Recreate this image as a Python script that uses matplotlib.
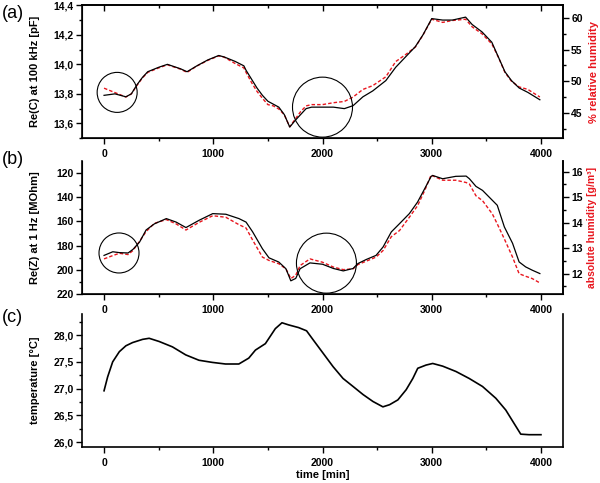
import matplotlib
matplotlib.use('Agg')
import matplotlib.pyplot as plt
from matplotlib.patches import Circle
from matplotlib.ticker import MultipleLocator, FuncFormatter
from matplotlib.transforms import ScaledTranslation

plt.rcParams['font.family'] = ['Liberation Sans', 'DejaVu Sans']

# (a) capacitance and relative humidity
t_a = [0, 100, 200, 250, 300, 350, 400, 500, 580, 700, 760, 850, 950, 1050, 1100,
       1200, 1280, 1300, 1350, 1400, 1450, 1500, 1550, 1600, 1650, 1700, 1750, 1800,
       1850, 1900, 2000, 2100, 2200, 2280, 2370, 2460, 2580, 2670, 2760, 2850, 2920,
       3000, 3100, 3190, 3310, 3370, 3460, 3550, 3610, 3670, 3730, 3800, 3880, 3990]
cap = [13.79, 13.80, 13.78, 13.80, 13.86, 13.91, 13.95, 13.98, 14.00, 13.97, 13.95,
       13.99, 14.03, 14.06, 14.05, 14.02, 13.99, 13.96, 13.90, 13.84, 13.79, 13.75,
       13.73, 13.71, 13.66, 13.575, 13.62, 13.66, 13.70, 13.71, 13.71, 13.71, 13.70,
       13.72, 13.78, 13.82, 13.89, 13.98, 14.05, 14.12, 14.20, 14.31, 14.30, 14.30,
       14.32, 14.27, 14.22, 14.15, 14.05, 13.95, 13.89, 13.84, 13.81, 13.76]
rh = [48.9, 48.2, 47.5, 48.0, 49.3, 50.5, 51.4, 52.1, 52.6, 51.9, 51.4, 52.4, 53.3,
      54.0, 53.8, 52.8, 52.1, 51.4, 49.8, 48.4, 47.3, 46.3, 46.1, 45.6, 44.7, 42.8,
      44.0, 45.2, 46.1, 46.3, 46.3, 46.6, 46.8, 47.5, 48.7, 49.3, 50.7, 53.1, 54.2,
      55.4, 57.3, 59.8, 59.3, 59.6, 59.8, 58.6, 57.5, 55.9, 53.8, 51.4, 50.0, 49.1,
      48.7, 47.5]

# (b) impedance and absolute humidity
t_b = [0, 80, 140, 220, 265, 325, 385, 460, 570, 660, 750, 870, 995, 1115, 1235,
       1300, 1360, 1450, 1510, 1600, 1665, 1710, 1755, 1795, 1885, 2000, 2100, 2190,
       2280, 2325, 2400, 2490, 2555, 2630, 2705, 2795, 2870, 2935, 2995, 3010, 3100,
       3220, 3315, 3345, 3405, 3465, 3555, 3600, 3665, 3740, 3800, 3860, 3920, 3990]
imp = [188, 185, 185.7, 186, 183, 177, 167, 162, 157.6, 160.5, 165, 159, 153.5, 154,
       157.6, 160.5, 168.5, 182.5, 190, 193.5, 199, 209, 207, 199, 194.2, 195.3,
       198.8, 200.8, 198.8, 194.7, 191.4, 188, 181, 168.6, 161.8, 153.5, 144, 133,
       122.7, 122, 124.7, 122.7, 122.5, 124.7, 131, 134.3, 142.5, 146.6, 164.5, 178,
       193.4, 197.5, 200.2, 203]
ah = [12.58, 12.71, 12.80, 12.75, 12.91, 13.27, 13.65, 13.97, 14.12, 13.95, 13.71,
      14.01, 14.27, 14.21, 13.92, 13.79, 13.32, 12.65, 12.52, 12.39, 12.19, 11.81,
      11.94, 12.32, 12.58, 12.45, 12.26, 12.16, 12.19, 12.36, 12.49, 12.65, 12.91,
      13.45, 13.69, 14.21, 14.66, 15.25, 15.87, 15.83, 15.66, 15.66, 15.57, 15.51,
      15.05, 14.86, 14.34, 13.95, 13.36, 12.65, 12.00, 11.90, 11.81, 11.64]

# (c) temperature
t_c = [0, 33, 79, 140, 200, 261, 353, 413, 505, 626, 748, 869, 991, 1112, 1234, 1325,
       1386, 1477, 1568, 1629, 1690, 1781, 1854, 1915, 2006, 2097, 2188, 2280, 2371,
       2462, 2553, 2614, 2690, 2766, 2827, 2872, 2948, 3009, 3100, 3222, 3343, 3465,
       3587, 3678, 3754, 3815, 3891, 4000]
temp = [26.96, 27.22, 27.50, 27.69, 27.80, 27.86, 27.92, 27.94, 27.88, 27.78, 27.63,
        27.53, 27.49, 27.46, 27.46, 27.57, 27.72, 27.84, 28.12, 28.23, 28.19, 28.14,
        28.08, 27.91, 27.66, 27.41, 27.19, 27.04, 26.89, 26.76, 26.66, 26.70, 26.79,
        26.98, 27.19, 27.38, 27.44, 27.47, 27.42, 27.32, 27.19, 27.04, 26.82, 26.60,
        26.35, 26.15, 26.14, 26.14]

# circles marking regions of interest (data centre, radius in px)
circles_a = [(120, 13.81, 20), (2000, 13.71, 30)]
circles_b = [(137, 186.0, 20), (2036, 194.4, 30)]

RED = '#e8161e'
comma = FuncFormatter(lambda v, p: ('%.1f' % v).replace('.', ','))
plain = FuncFormatter(lambda v, p: '%d' % round(v))

fig = plt.figure(figsize=(6.0, 4.83), dpi=100)
ax_a = fig.add_axes([0.137, 0.714, 0.801, 0.275])
ax_b = fig.add_axes([0.137, 0.391, 0.801, 0.275])
ax_c = fig.add_axes([0.137, 0.0745, 0.801, 0.275])


def bold_ticks(ax):
    for lab in ax.get_xticklabels() + ax.get_yticklabels():
        lab.set_fontweight('bold')


def style(ax):
    ax.set_xlim(-200, 4200)
    ax.xaxis.set_major_locator(MultipleLocator(1000))
    ax.xaxis.set_minor_locator(MultipleLocator(500))
    ax.xaxis.set_major_formatter(plain)
    ax.tick_params(axis='both', which='major', direction='out', length=4, width=1,
                   labelsize=7.5, pad=2)
    ax.tick_params(axis='both', which='minor', direction='out', length=2, width=1)
    ax.tick_params(axis='x', which='major', pad=4)
    for s in ax.spines.values():
        s.set_linewidth(1.2)
    ax.spines['top'].set_visible(False)


def right_axis(ax, lo, hi, major, minor, fmt):
    r = ax.twinx()
    r.set_ylim(lo, hi)
    r.yaxis.set_major_locator(MultipleLocator(major))
    r.yaxis.set_minor_locator(MultipleLocator(minor))
    r.yaxis.set_major_formatter(fmt)
    r.tick_params(axis='y', which='major', direction='out', length=4, width=1,
                  labelsize=7.5, pad=2)
    r.tick_params(axis='y', which='minor', direction='out', length=2, width=1)
    r.spines['top'].set_visible(False)
    r.spines['right'].set_linewidth(1.2)
    ax.set_zorder(r.get_zorder() + 1)
    ax.patch.set_visible(False)
    return r


def add_circles(ax, circles):
    for cx, cy, r in circles:
        off = ScaledTranslation(cx, cy, ax.transData)
        c = Circle((0, 0), r / 100.0, transform=fig.dpi_scale_trans + off,
                   fill=False, edgecolor='black', linewidth=0.8, clip_on=False)
        fig.add_artist(c)


# ---- (a)
ax_a.plot(t_a, cap, color='black', linewidth=0.9, zorder=3)
ax_a.set_ylim(13.5, 14.4)
ax_a.yaxis.set_major_locator(MultipleLocator(0.2))
ax_a.yaxis.set_minor_locator(MultipleLocator(0.1))
ax_a.yaxis.set_major_formatter(comma)
style(ax_a)
ax_a.spines['top'].set_visible(True)
top = ax_a.secondary_xaxis('top')
top.xaxis.set_major_locator(MultipleLocator(1000))
top.xaxis.set_minor_locator(MultipleLocator(500))
top.tick_params(which='major', direction='in', length=4, width=1, labeltop=False)
top.tick_params(which='minor', direction='in', length=2, width=1)
top.spines['top'].set_linewidth(1.2)
ax_a.set_ylabel('Re(C) at 100 kHz [pF]', fontsize=8, fontweight='bold')
ax_a.yaxis.set_label_coords(-0.087, 0.5)
ra = right_axis(ax_a, 41, 62, 5, 2.5, plain)
ra.plot(t_a, rh, color=RED, linewidth=1.0, linestyle=(0, (2.5, 1.5)))
ra.set_ylabel('% relative humidity', fontsize=8, fontweight='bold', color=RED)
ra.yaxis.set_label_coords(1.054, 0.5)
add_circles(ax_a, circles_a)

# ---- (b)
ax_b.plot(t_b, imp, color='black', linewidth=0.9, zorder=3)
ax_b.set_ylim(220, 110.3)
ax_b.yaxis.set_major_locator(MultipleLocator(20))
ax_b.yaxis.set_minor_locator(MultipleLocator(10))
ax_b.yaxis.set_major_formatter(plain)
style(ax_b)
ax_b.set_ylabel('Re(Z) at 1 Hz [MOhm]', fontsize=8, fontweight='bold')
ax_b.yaxis.set_label_coords(-0.087, 0.5)
rb = right_axis(ax_b, 11.2, 16.4, 1, 0.5, plain)
rb.plot(t_b, ah, color=RED, linewidth=1.0, linestyle=(0, (2.5, 1.5)))
rb.set_ylabel('absolute humidity [g/m³]', fontsize=7.5, fontweight='bold',
              color=RED)
rb.yaxis.set_label_coords(1.05, 0.5)
add_circles(ax_b, circles_b)

# ---- (c)
ax_c.plot(t_c, temp, color='black', linewidth=1.2)
ax_c.set_ylim(25.91, 28.39)
ax_c.yaxis.set_major_locator(MultipleLocator(0.5))
ax_c.yaxis.set_minor_locator(MultipleLocator(0.25))
ax_c.yaxis.set_major_formatter(comma)
style(ax_c)
ax_c.set_ylabel('temperature [°C]', fontsize=8, fontweight='bold')
ax_c.yaxis.set_label_coords(-0.087, 0.5)
ax_c.set_xlabel('time [min]', fontsize=8, fontweight='bold')
ax_c.xaxis.set_label_coords(0.5, -0.17)

for ax in (ax_a, ax_b, ax_c, ra, rb):
    bold_ticks(ax)

fig.text(0.003, 1 - 13 / 483, '(a)', fontsize=13, va='center')
fig.text(0.003, 1 - 160 / 483, '(b)', fontsize=13, va='center')
fig.text(0.003, 1 - 318 / 483, '(c)', fontsize=13, va='center')

fig.savefig('out.png', dpi=100)
